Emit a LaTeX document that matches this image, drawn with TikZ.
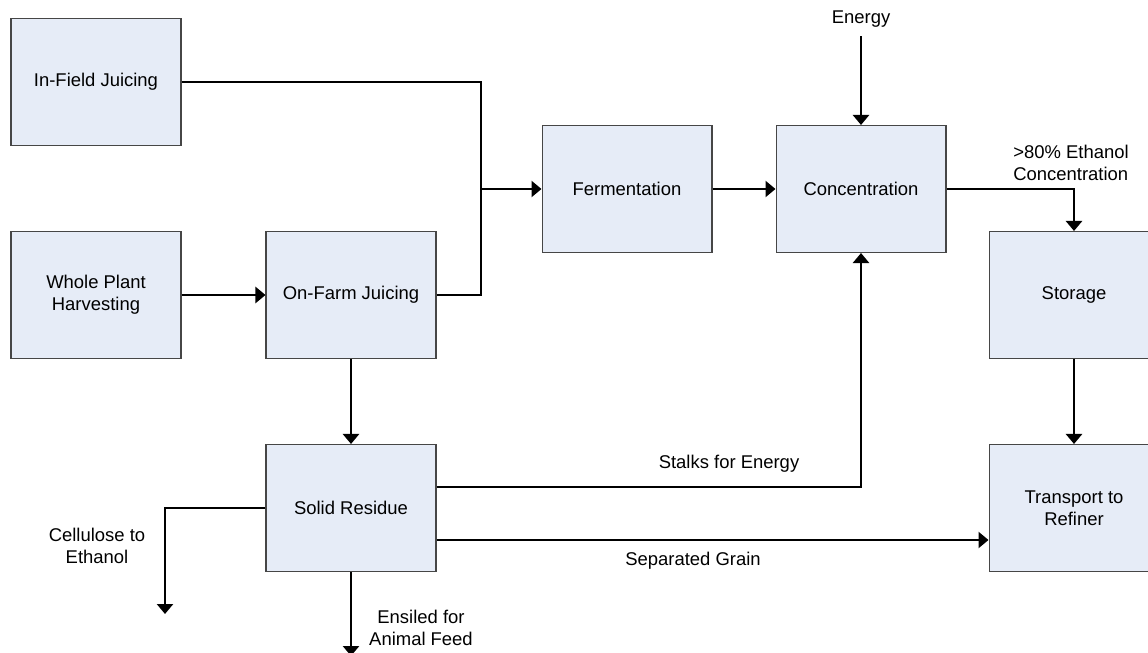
\documentclass[tikz,border=0pt]{standalone}
\usepackage{fontspec}
\setmainfont{Liberation Sans}
\usetikzlibrary{arrows.meta,positioning,calc}
\definecolor{boxfill}{RGB}{230,236,247}
\definecolor{boxline}{RGB}{70,70,70}
\tikzset{
  block/.style = {draw=boxline, fill=boxfill, line width=0.6pt, rectangle,
                  minimum width=3.4cm, minimum height=2.54cm, align=center},
  lbl/.style = {align=center, inner sep=1pt},
  flow/.style = {line width=1.4pt},
}

\begin{document}
\begin{tikzpicture}[x=0.02cm,y=-0.02cm,>={Triangle[length=0.2cm,width=0.32cm]},
    font=\fontsize{10.5}{12.6}\selectfont]
    \useasboundingbox (0,0) rectangle (1148,652);

    \node [block] (infield) at (96,82) {In-Field Juicing};
    \node [block] (harvest) at (96,295) {Whole Plant\\Harvesting};
    \node [block] (onfarm) at (351,295) {On-Farm Juicing};
    \node [block] (ferment) at (627,189) {Fermentation};
    \node [block] (conc) at (861,189) {Concentration};
    \node [block] (storage) at (1074,295) {Storage};
    \node [block] (residue) at (351,508) {Solid Residue};
    \node [block] (transport) at (1074,508) {Transport to\\Refiner};

    \node [lbl] (energy) at (861,19) {Energy};
    \node [lbl, align=left] (ethanol) at (1071,163) {>80\% Ethanol\\Concentration};
    \node [lbl] (stalks) at (729,464) {Stalks for Energy};
    \node [lbl] (grain) at (693,561) {Separated Grain};
    \node [lbl] (cellulose) at (97,546) {Cellulose to\\Ethanol};
    \node [lbl] (ensiled) at (421,628) {Ensiled for\\Animal Feed};

    \coordinate (jn) at (481,189);
    \coordinate (celend) at (165,614);
    \coordinate (feedend) at (351,656);

    \draw [flow] (infield.east) -| (jn) |- (onfarm.east);
    \draw [flow,->] (jn) -- (ferment.west);
    \draw [flow,->] (harvest) -- (onfarm);
    \draw [flow,->] (ferment) -- (conc);
    \draw [flow,->,shorten <=4pt] (energy) -- (conc);
    \draw [flow,->] (conc.east) -| (storage.north);
    \draw [flow,->] (storage) -- (transport);
    \draw [flow,->] (onfarm) -- (residue);

    \draw [flow,->] ([yshift=0.42cm]residue.east) -| (conc.south);
    \draw [flow,->] ([yshift=-0.64cm]residue.east) -- ([yshift=-0.64cm]transport.west);
    \draw [flow,->] (residue.west) -| (celend);
    \draw [flow,->] (residue.south) -- (feedend);
\end{tikzpicture}
\end{document}
